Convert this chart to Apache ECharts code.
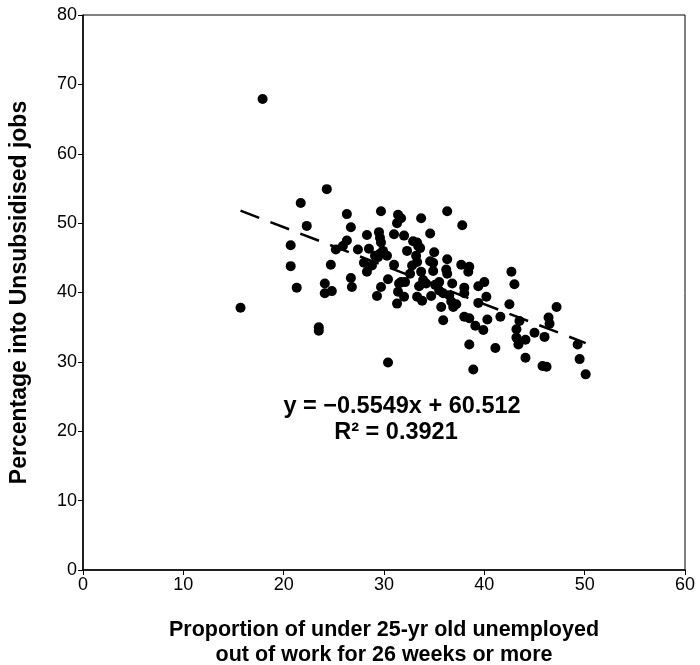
<!DOCTYPE html>
<html>
<head>
<meta charset="utf-8">
<script src="https://cdn.jsdelivr.net/npm/echarts@6/dist/echarts.min.js"></script>
<style>
html,body{margin:0;padding:0;background:#fff;}
#chart{width:700px;height:665px;}
</style>
</head>
<body>
<div id="chart"></div>
<script>
const xValues = [15.7,17.9,20.7,20.7,21.3,21.7,22.3,23.5,23.5,24.3,24.1,24.1,24.7,24.8,25.2,25.9,26.3,26.3,26.7,26.7,26.8,27.4,28.3,28.5,28.0,28.3,28.8,29.1,29.5,29.6,29.7,29.7,29.9,30.3,29.7,29.3,30.4,31.0,31.0,31.3,31.4,31.7,31.3,31.4,31.5,30.4,32.0,32.9,33.4,32.3,33.2,32.8,33.3,32.6,33.7,33.7,34.6,35.0,34.6,34.9,34.9,33.9,31.7,32.0,33.3,33.8,34.7,34.2,35.1,35.5,35.9,35.7,36.3,36.3,36.2,36.3,36.5,36.8,36.7,36.9,37.2,37.7,37.8,38.5,38.4,38.0,38.0,39.4,40.0,40.2,39.4,35.9,38.0,38.5,39.1,39.9,40.3,41.6,42.5,42.7,43.0,43.5,43.2,43.2,43.4,44.1,45.0,46.0,46.4,46.5,47.2,38.5,41.1,44.1,45.8,46.2,38.9,49.3,49.5,50.1,29.6,29.4,32.1,33.5,35.5,33.3,33.6];
const yValues = [37.8,67.9,46.8,43.8,40.7,52.9,49.6,35.0,34.5,54.9,41.3,39.9,44.0,40.2,46.2,46.7,47.5,51.3,49.4,42.1,40.8,46.2,48.3,46.3,44.3,43.0,43.9,45.3,48.7,45.6,51.7,47.2,46.0,45.3,40.8,39.5,41.9,48.4,44.0,50.0,51.2,50.7,38.4,40.1,41.3,29.9,48.2,47.4,46.7,46.0,45.3,43.9,44.4,42.7,43.0,50.7,48.5,45.8,44.5,44.3,43.1,41.8,41.5,39.4,39.4,38.8,39.5,41.3,41.1,40.3,39.9,37.9,51.7,44.8,43.3,42.7,39.6,41.3,38.7,37.9,38.3,44.0,49.7,43.7,43.0,40.7,39.9,40.9,41.5,39.4,38.5,36.0,36.5,36.3,35.2,34.6,36.1,36.5,38.3,43.0,41.2,35.9,34.7,33.5,32.5,33.2,34.2,33.6,36.4,35.5,37.9,32.5,32.0,30.6,29.4,29.3,28.9,32.5,30.4,28.2,47.9,45.1,41.5,40.9,41.5,47.2,46.4];
const slope = -0.5549;
const intercept = 60.512;
const xTicks = [0,10,20,30,40,50,60];
const yTicks = [0,10,20,30,40,50,60,70,80];
const equationText = 'y = \u22120.5549x + 60.512';
const r2Text = 'R\u00b2 = 0.3921';

const points = xValues.map((x,i)=>[x,yValues[i]]);
const xMin = Math.min(...xValues), xMax = Math.max(...xValues);
const trend = [[xMin, slope*xMin+intercept],[xMax, slope*xMax+intercept]];

const chart = echarts.init(document.getElementById('chart'), null, {renderer:'canvas'});
const font = 'Liberation Sans, Arial, sans-serif';
chart.setOption({
  animation:false,
  backgroundColor:'#fff',
  grid:{left:83,right:15,top:15,bottom:95,show:true,borderColor:'#000',borderWidth:1,containLabel:false,outerBoundsMode:'none'},
  xAxis:{
    type:'value',min:0,max:60,interval:10,
    name:'Proportion of under 25-yr old unemployed\nout of work for 26 weeks or more',
    nameLocation:'middle',nameGap:48,
    nameTextStyle:{fontFamily:font,fontSize:21.5,fontWeight:'bold',color:'#000',lineHeight:25},
    axisLine:{lineStyle:{color:'#000',width:1.5}},
    axisTick:{show:true,length:5,lineStyle:{color:'#000'}},
    axisLabel:{fontFamily:font,fontSize:18,color:'#000',margin:6},
    splitLine:{show:false}
  },
  yAxis:{
    type:'value',min:0,max:80,interval:10,
    name:'Percentage into Unsubsidised jobs',
    nameLocation:'middle',nameGap:52,
    nameTextStyle:{fontFamily:font,fontSize:23,fontWeight:'bold',color:'#000'},
    axisLine:{lineStyle:{color:'#000',width:1.5}},
    axisTick:{show:true,length:5,lineStyle:{color:'#000'}},
    axisLabel:{fontFamily:font,fontSize:18,color:'#000',margin:6},
    splitLine:{show:false}
  },
  series:[
    {type:'scatter',data:points,symbolSize:10,itemStyle:{color:'#000',opacity:1}},
    {type:'line',data:trend,symbol:'none',lineStyle:{color:'#000',width:2.5,type:[20,12]},z:3}
  ],
  graphic:[
    {type:'text',x:402,y:407,style:{text:equationText,font:'bold 23.5px '+font,fill:'#000',textAlign:'center',textVerticalAlign:'middle'}},
    {type:'text',x:396,y:433,style:{text:r2Text,font:'bold 23.5px '+font,fill:'#000',textAlign:'center',textVerticalAlign:'middle'}}
  ]
});
</script>
</body>
</html>
